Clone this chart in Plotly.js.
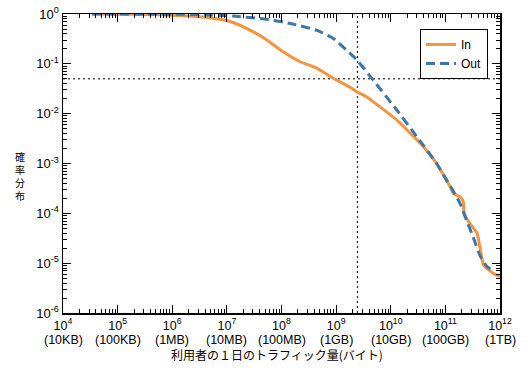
<!DOCTYPE html>
<html><head><meta charset="utf-8">
<script src="https://cdn.plot.ly/plotly-3.0.1.min.js"></script>
<style>html,body{margin:0;padding:0;background:#fff}#chart{width:530px;height:370px}</style>
</head><body><div id="chart"></div>
<script>
const inX = [3.5e4,1e5,3.2e5,1e6,3.2e6,7.6e6,1.3e7,2.6e7,5.4e7,1.07e8,2.2e8,4.5e8,8.9e8,1.8e9,2.4e9,3.6e9,6.3e9,1.3e10,3.5e10,6.9e10,1.23e11,1.4e11,1.86e11,2.14e11,2.19e11,2.8e11,3.8e11,4.4e11,5e11,7.6e11,1e12];
const inY = [1.0,0.993,0.977,0.944,0.883,0.782,0.676,0.479,0.302,0.174,0.110,0.0813,0.0513,0.0339,0.0275,0.0219,0.0138,0.00741,0.00251,0.001,0.000339,0.000251,0.000214,0.00017,0.0001,6.3e-5,4e-5,1.8e-5,9.1e-6,6.2e-6,5.4e-6];
const outX = [3.4e4,1e5,1e6,3.2e6,1.3e7,5.4e7,1.45e8,4.5e8,8.9e8,1.8e9,2.4e9,4.8e9,1.3e10,3.0e10,6.9e10,1.15e11,1.86e11,2.45e11,3.2e11,4.4e11,5.8e11,8e11];
const outY = [1.0,0.995,0.989,0.977,0.912,0.782,0.646,0.468,0.324,0.162,0.120,0.0468,0.0117,0.00347,0.001,0.000398,0.000158,7.2e-5,3.4e-5,1.35e-5,8.5e-6,6.8e-6];
const refX = 2.45e9;   // vertical dotted reference
const refY = 0.05;     // horizontal dotted reference
const xTickVals = [1e4,1e5,1e6,1e7,1e8,1e9,1e10,1e11,1e12];
const xTickText = ['10<sup>4</sup>','10<sup>5</sup>','10<sup>6</sup>','10<sup>7</sup>','10<sup>8</sup>','10<sup>9</sup>','10<sup>10</sup>','10<sup>11</sup>','10<sup>12</sup>'];
const xUnitText = ['(10KB)','(100KB)','(1MB)','(10MB)','(100MB)','(1GB)','(10GB)','(100GB)','(1TB)'];
const yTickVals = [1e-6,1e-5,1e-4,1e-3,1e-2,1e-1,1];
const yTickText = ['10<sup>-6</sup>','10<sup>-5</sup>','10<sup>-4</sup>','10<sup>-3</sup>','10<sup>-2</sup>','10<sup>-1</sup>','10<sup>0</sup>'];
const seriesNames = ['In','Out'];
const xTitle = '利用者の１日のトラフィック量(バイト)';
const yTitle = '確<br>率<br>分<br>布';

function minorVals(lo, hi){ const v=[]; for(let k=lo;k<hi;k++){for(let m=2;m<=9;m++) v.push(m*Math.pow(10,k));} return v; }

const FONT = 'Liberation Sans, Arial, Noto Sans CJK JP, sans-serif';
const JFONT = 'Noto Sans CJK JP, sans-serif';
const traces = [
  {x:[refX,refX], y:[1e-6,1], mode:'lines', line:{color:'#000',width:1,dash:'2px,3px'}, showlegend:false, hoverinfo:'skip'},
  {x:[1e4,1e12], y:[refY,refY], mode:'lines', line:{color:'#000',width:1,dash:'2px,3px'}, showlegend:false, hoverinfo:'skip'},
  {x:inX, y:inY, name:seriesNames[0], mode:'lines', line:{color:'#F7933D',width:3,shape:'spline',smoothing:0.4}},
  {x:outX, y:outY, name:seriesNames[1], mode:'lines', line:{color:'#3B77AA',width:3,dash:'9px,5px',shape:'spline',smoothing:0.4}}
];
const axisCommon = {type:'log', automargin:false, showgrid:false, zeroline:false, showline:true, linecolor:'#000', linewidth:1.5, mirror:'ticks', ticks:'inside', ticklen:8, tickwidth:1.2, tickcolor:'#000', tickmode:'array', tickfont:{family:FONT,size:13,color:'#000'}};
const annotations = [];
xTickVals.forEach((v,i)=>annotations.push({text:xUnitText[i], xref:'x', yref:'paper', x:Math.log10(v), y:-0.062, xanchor:'center', yanchor:'top', borderpad:0, showarrow:false, font:{family:FONT,size:12.5,color:'#000'}}));
annotations.push({text:xTitle, xref:'paper', yref:'paper', x:0.49, y:-0.14, xanchor:'center', yanchor:'middle', showarrow:false, font:{family:JFONT,size:12,color:'#000'}});
annotations.push({text:yTitle, xref:'paper', yref:'paper', x:-0.098, y:0.458, xanchor:'center', yanchor:'middle', showarrow:false, font:{family:JFONT,size:10,color:'#000'}});

const layout = {
  width:530, height:370, margin:{l:63,r:30,t:14,b:57}, paper_bgcolor:'#fff', plot_bgcolor:'#fff',
  font:{family:FONT,color:'#000'},
  xaxis:Object.assign({}, axisCommon, {range:[4,12], tickvals:xTickVals, ticktext:xTickText, tickfont:{family:FONT,size:12.5,color:'#000'},
    minor:{tickmode:'array', tickvals:minorVals(4,12), ticks:'inside', ticklen:4, tickwidth:1, tickcolor:'#000', showgrid:false}}),
  yaxis:Object.assign({}, axisCommon, {range:[-6,0], tickvals:yTickVals, ticktext:yTickText,
    minor:{tickmode:'array', tickvals:minorVals(-6,0), ticks:'inside', ticklen:4, tickwidth:1, tickcolor:'#000', showgrid:false}}),
  showlegend:true,
  legend:{x:0.817, y:0.95, xanchor:'left', yanchor:'top', bgcolor:'#fff', bordercolor:'#000', borderwidth:1, itemwidth:30, font:{family:FONT,size:12,color:'#000'}, tracegroupgap:0},
  annotations:annotations
};
Plotly.newPlot('chart', traces, layout, {staticPlot:true, displayModeBar:false});
</script></body></html>
